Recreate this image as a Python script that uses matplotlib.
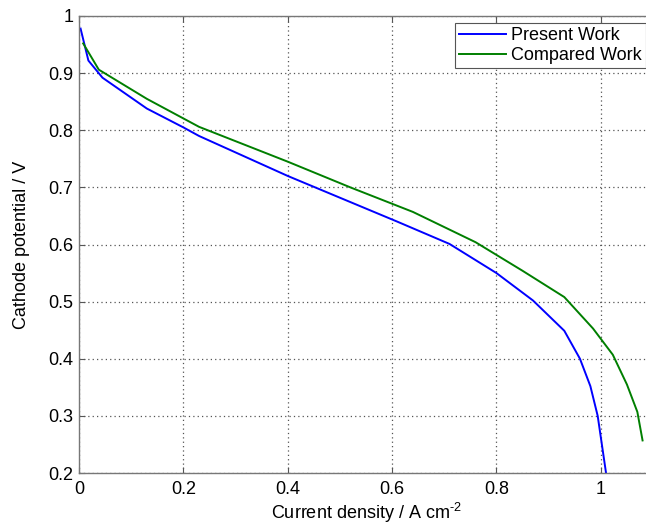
import matplotlib
matplotlib.use('Agg')
import matplotlib.pyplot as plt

plt.rcParams['font.family'] = ['Liberation Sans', 'DejaVu Sans']
plt.rcParams['mathtext.fontset'] = 'custom'
plt.rcParams['mathtext.rm'] = 'Liberation Sans'

# Present Work
present_x = [0.003, 0.018, 0.045, 0.13, 0.2, 0.23, 0.4, 0.61, 0.71, 0.8,
             0.87, 0.93, 0.96, 0.98, 0.994, 1.01]
present_y = [0.978, 0.922, 0.892, 0.838, 0.805, 0.79, 0.72, 0.64, 0.601, 0.55,
             0.502, 0.449, 0.40, 0.352, 0.30, 0.2]

# Compared Work
compared_x = [0.008, 0.038, 0.13, 0.23, 0.4, 0.52, 0.64, 0.76, 0.85, 0.93,
              0.985, 1.023, 1.05, 1.07, 1.08]
compared_y = [0.952, 0.906, 0.855, 0.806, 0.745, 0.70, 0.657, 0.604, 0.554, 0.508,
              0.453, 0.407, 0.355, 0.307, 0.257]

x_ticks = [0, 0.2, 0.4, 0.6, 0.8, 1]
x_labels = ['0', '0.2', '0.4', '0.6', '0.8', '1']
y_ticks = [0.2, 0.3, 0.4, 0.5, 0.6, 0.7, 0.8, 0.9, 1]
y_labels = ['0.2', '0.3', '0.4', '0.5', '0.6', '0.7', '0.8', '0.9', '1']

fig = plt.figure(figsize=(6.46, 5.27), dpi=100)
ax = fig.add_axes([79 / 646, 54 / 527, 574 / 646, 457 / 527])

ax.plot(present_x, present_y, color='#0000ff', lw=1.4, label='Present Work')
ax.plot(compared_x, compared_y, color='#007f00', lw=1.4, label='Compared Work')

ax.set_xlim(0, 1.1)
ax.set_ylim(0.2, 1)
ax.set_xticks(x_ticks)
ax.set_xticklabels(x_labels)
ax.set_yticks(y_ticks)
ax.set_yticklabels(y_labels)
ax.tick_params(direction='in', top=True, right=True, labelsize=13,
               length=4, color='#555555')
ax.tick_params(axis='x', pad=6)
ax.tick_params(axis='y', pad=4)
for s in ax.spines.values():
    s.set_color('#777777')
    s.set_linewidth(1.0)
ax.grid(True, linestyle=(0, (1, 2.5)), color='#555555', linewidth=0.9)

ax.set_xlabel(r'Current density / A cm$^{\text{-}2}$', fontsize=13, labelpad=2)
ax.set_ylabel('Cathode potential / V', fontsize=13, labelpad=13)

leg = ax.legend(loc='upper right', fontsize=13, fancybox=False, framealpha=1,
                edgecolor='#555555', borderaxespad=0.4, handlelength=2.6,
                borderpad=0.2, labelspacing=0.2, handletextpad=0.3)
leg.get_frame().set_linewidth(0.8)

fig.savefig('out.png', dpi=100)
